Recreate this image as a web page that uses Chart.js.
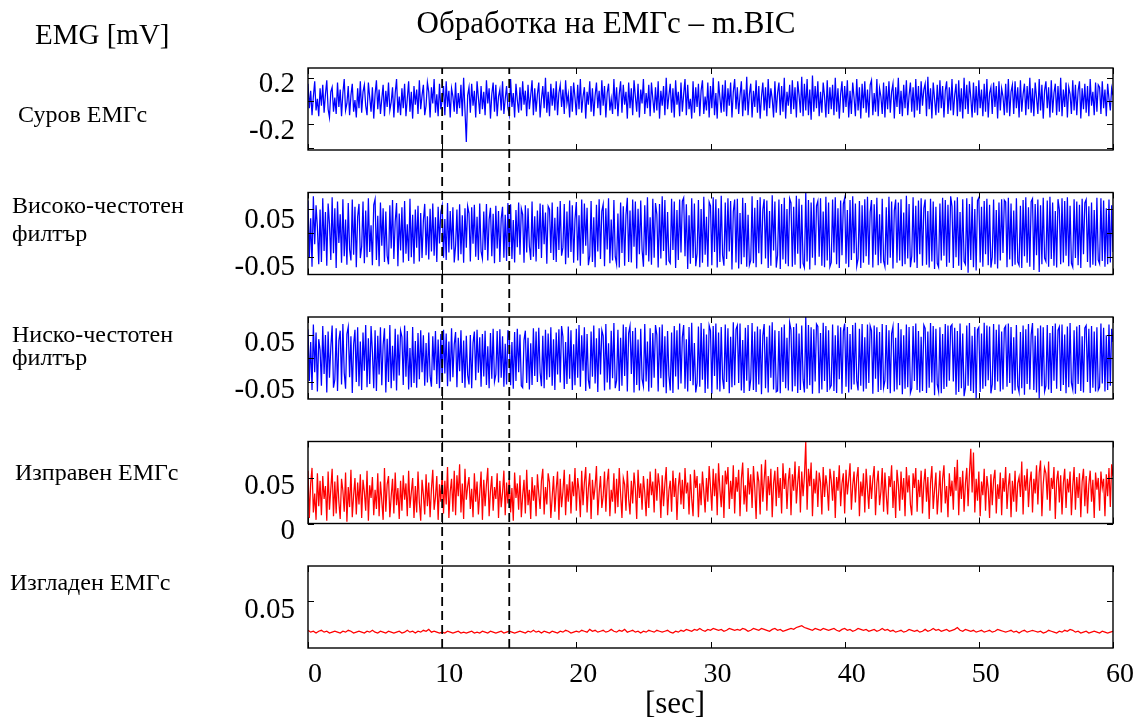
<!DOCTYPE html>
<html>
<head>
<meta charset="utf-8">
<script src="https://cdn.jsdelivr.net/npm/chart.js@4/dist/chart.umd.min.js"></script>
<style>
  html, body { margin: 0; padding: 0; background: #fff; }
  #wrap { position: relative; width: 1138px; height: 719px; overflow: hidden; }
  #plot { position: absolute; left: 0; top: 0; }
  .txt { position: absolute; font-family: "Liberation Serif", "Times New Roman", serif; color: #000;
         line-height: 1; white-space: nowrap; }
</style>
</head>
<body>
<div id="wrap">
  <canvas id="plot" width="1138" height="719"></canvas>
  <div class="txt" style="left:606px; top:7px; font-size:31px; transform:translateX(-50%);">Обработка на ЕМГс – m.BIC</div>
  <div class="txt" style="left:35px; top:20px; font-size:29px;">EMG [mV]</div>
  <div class="txt" style="left:18px; top:102px; font-size:24px;">Суров ЕМГс</div>
  <div class="txt" style="left:12px; top:193px; font-size:24px;">Високо-честотен</div>
  <div class="txt" style="left:12px; top:221px; font-size:24px;">филтър</div>
  <div class="txt" style="left:12px; top:322px; font-size:24px;">Ниско-честотен</div>
  <div class="txt" style="left:12px; top:345px; font-size:24px;">филтър</div>
  <div class="txt" style="left:15px; top:460px; font-size:24px;">Изправен ЕМГс</div>
  <div class="txt" style="left:10px; top:570px; font-size:24px;">Изгладен ЕМГс</div>
  <div class="txt" style="left:675px; top:687px; font-size:31px; transform:translateX(-50%);">[sec]</div>
</div>
<script>
// Sampling of the stored traces (seconds between samples)
const SAMPLE_STEP = 0.1;
const SMOOTH_STEP = 0.2;

// Time axis
const timeTicks = [0, 10, 20, 30, 40, 50, 60];
const cursorTimes = [10, 15];

// Raw EMG, mV (one row = 1 s)
const rawEmg = [
  .15,-.06,.09,-.12,.04,.17,-.08,.02,-.13,.11,
  -.04,.14,-.10,.06,.18,-.07,-.14,.08,.12,-.09,
  .03,-.11,.16,-.05,.10,-.13,.07,.19,-.08,-.02,
  .13,-.12,.05,.15,-.09,.01,-.14,.11,-.06,.17,
  -.10,.08,.14,-.04,-.12,.16,.03,-.09,.12,-.15,
  .06,.18,-.07,.10,-.11,.02,.14,-.13,.09,-.05,
  .16,-.08,-.01,.12,-.14,.07,.19,-.10,.04,-.12,
  .11,-.06,.15,-.13,.02,.17,-.09,.08,-.15,.13,
  -.03,.10,-.11,.18,-.07,.05,.14,-.12,-.04,.16,
  .08,-.14,.12,-.02,.19,-.10,.06,-.13,.15,-.07,
  .01,.13,-.12,.17,-.05,.09,-.14,.11,.04,-.09,
  .16,-.11,.07,-.06,.14,-.13,.20,-.08,-.35,.05,
  .12,-.10,.15,-.04,.09,-.14,.17,.03,-.11,.13,
  -.07,.08,-.12,.18,-.02,.11,-.15,.06,.16,-.09,
  .14,-.13,.04,.10,-.08,.17,-.11,.02,.13,-.06,
  -.12,.19,-.05,.07,-.14,.15,.01,-.10,.12,-.08,
  .17,-.03,.09,-.13,.14,-.07,.05,.18,-.12,.11,
  -.09,.06,.16,-.14,.02,.13,-.06,.20,-.10,.08,
  -.13,.15,-.04,.11,-.08,.17,-.12,.07,.14,-.05,
  .10,-.11,.18,-.02,.06,-.14,.13,-.09,.16,.03,
  -.12,.14,-.07,.19,-.10,.04,.12,-.15,.08,-.03,
  .17,-.09,.11,-.13,.05,.16,-.06,.09,-.12,.18,
  -.04,.13,-.14,.07,.15,-.08,.02,-.11,.19,-.07,
  .12,-.13,.06,.17,-.10,.14,-.03,.08,-.15,.16,
  -.06,.11,-.12,.18,.04,-.09,.15,-.14,.10,-.02,
  .19,-.11,.07,-.06,.14,-.13,.16,.02,-.10,.12,
  -.08,.17,-.15,.09,-.04,.13,-.12,.20,-.07,.05,
  .15,-.10,.11,-.14,.18,-.03,.08,-.13,.16,-.09,
  .06,.19,-.12,.14,-.07,.02,-.15,.17,-.10,.12,
  -.05,.15,-.13,.09,.18,-.11,.04,-.08,.16,-.14,
  .13,-.06,.20,-.12,.07,-.15,.17,.03,-.10,.14,
  -.09,.18,-.13,.11,-.04,.16,-.14,.08,.19,-.07,
  .12,-.11,.05,.17,-.13,.10,-.08,.21,-.12,.06,
  .15,-.14,.09,-.05,.18,-.10,.13,-.15,.04,.16,
  -.08,.12,-.13,.19,-.06,.11,.02,-.14,.17,-.10,
  .07,.16,-.12,.13,-.09,.20,-.15,.08,-.04,.14,
  -.11,.18,-.07,.12,-.14,.17,.05,-.10,.21,-.13,
  .15,-.08,.19,-.12,.10,-.16,.22,-.09,.13,-.06,
  .17,-.13,.08,-.10,.16,.04,-.14,.18,-.11,.12,
  -.07,.14,-.12,.20,-.09,.11,-.15,.06,.17,-.10,
  .13,-.05,.18,-.14,.09,-.11,.16,.03,-.13,.19,
  -.08,.12,-.15,.15,-.06,.17,-.10,.10,-.14,.14,
  .18,-.12,.07,-.09,.19,-.13,.11,.04,-.11,.16,
  -.14,.13,-.07,.17,-.10,.08,.15,-.15,.12,-.05,
  .20,-.11,.09,-.13,.14,-.06,.18,-.12,.05,.16,
  -.09,.12,-.14,.19,-.08,.13,-.11,.17,-.04,.10,
  .15,-.13,.21,-.07,.11,-.15,.16,.02,-.12,.14,
  -.10,.18,-.06,.13,-.14,.09,.17,-.11,.12,-.08,
  .19,-.12,.05,.15,-.13,.18,-.09,.11,-.15,.20,
  -.07,.14,-.11,.17,.03,-.14,.16,-.10,.13,-.12,
  .18,-.06,.10,-.13,.15,-.09,.19,-.14,.07,.12,
  -.11,.16,-.05,.13,-.15,.17,-.08,.11,.04,-.12,
  .15,-.10,.19,-.13,.08,.14,-.11,.17,-.06,.12,
  -.14,.18,-.09,.06,.15,-.12,.13,-.07,.20,-.10,
  .11,-.13,.16,.03,-.11,.19,-.08,.14,-.15,.09,
  .17,-.06,.12,-.14,.18,-.10,.07,.15,-.12,.13,
  -.09,.20,-.13,.10,-.05,.16,-.14,.12,.06,-.11,
  .18,-.08,.14,-.12,.09,.17,-.15,.11,-.07,.15,
  -.10,.13,-.13,.19,-.04,.08,-.12,.16,-.09,.14,
  .12,-.11,.17,-.06,.10,-.13,.15,.02,-.08,.11,
  .05
];

// High-pass filtered EMG, mV
const highPass = [
  .068,-.052,.031,-.071,.077,-.024,.058,.012,-.066,.049,
  -.061,.073,-.038,.044,-.069,.062,.019,-.057,.075,-.043,
  .052,-.074,.066,-.021,.039,-.063,.071,-.049,.028,-.067,
  .063,-.035,-.058,.070,-.046,.055,-.072,.034,.061,-.053,
  -.029,.066,-.064,.047,-.051,.073,-.040,.016,-.068,.059,
  .071,-.057,.036,-.070,.064,-.027,.052,-.061,.045,-.048,
  -.066,.058,-.033,.069,-.055,.024,.063,-.070,.041,-.037,
  .054,-.062,.067,-.044,.018,-.059,.072,-.051,.038,-.065,
  .049,-.031,.057,-.060,.042,-.053,.026,.061,-.047,.035,
  -.056,.051,-.039,.062,-.048,.033,-.061,.055,-.022,.044,
  .058,-.052,.029,-.057,.063,-.041,.046,-.035,.054,-.062,
  -.027,.049,-.058,.060,-.045,.037,-.063,.052,-.031,.056,
  .041,-.060,.054,-.023,.059,-.050,.034,-.057,.062,-.039,
  -.054,.045,-.036,.061,-.058,.028,.053,-.049,.040,-.064,
  .057,-.033,.046,-.061,.030,.055,-.052,.038,-.059,.063,
  -.044,.060,-.055,.027,-.062,.048,-.030,.064,-.046,.051,
  .039,-.063,.058,-.041,.052,-.028,-.057,.066,-.050,.035,
  -.060,.047,-.034,.062,-.053,.059,-.024,.043,-.065,.056,
  .050,-.042,.064,-.057,.032,-.061,.055,-.036,.067,-.048,
  -.031,.061,-.066,.045,-.052,.068,-.040,.058,-.063,.029,
  .065,-.058,.037,-.069,.070,-.044,.062,-.027,.053,-.068,
  -.048,.067,-.061,.033,-.072,.059,-.039,.071,-.055,.046,
  .060,-.070,.052,-.035,.073,-.064,.028,-.058,.069,-.050,
  -.066,.041,-.073,.064,-.042,.056,-.069,.038,.074,-.061,
  .047,-.062,.070,-.029,.066,-.075,.051,-.045,.068,-.036,
  -.071,.058,-.047,.075,-.060,.033,-.067,.072,-.052,.063,
  .039,-.073,.061,-.054,.077,-.038,.069,-.068,.044,-.059,
  -.064,.072,-.036,.066,-.074,.048,-.057,.070,-.041,.067,
  .074,-.049,.060,-.076,.037,-.065,.073,-.053,.062,-.070,
  -.043,.069,-.072,.050,-.063,.076,-.046,.034,-.071,.065,
  .057,-.068,.075,-.040,.071,-.073,.052,-.061,.078,-.047,
  -.069,.064,-.055,.073,-.039,.067,-.077,.045,.070,-.062,
  .072,-.075,.042,-.066,.074,-.051,.063,-.071,.038,-.068,
  -.058,.077,-.064,.053,-.072,.069,-.043,.075,-.066,.049,
  .071,-.054,.068,-.074,.046,-.069,.079,-.037,.066,-.073,
  -.047,.070,-.076,.061,-.056,.074,-.065,.050,-.070,.072,
  .063,-.071,.055,-.067,.078,-.044,.072,-.075,.059,-.064,
  -.073,.085,-.060,.069,-.077,.064,-.052,.074,-.068,.057,
  .067,-.050,.073,-.069,.045,-.072,.076,-.058,.064,-.071,
  -.062,.070,-.041,.075,-.066,.052,-.074,.068,-.047,.061,
  .073,-.065,.048,-.072,.069,-.057,.077,-.043,.062,-.070,
  -.055,.067,-.074,.058,-.063,.071,-.049,.076,-.067,.044,
  .069,-.073,.060,-.046,.074,-.068,.039,-.064,.072,-.059,
  -.071,.054,-.067,.076,-.052,.066,-.075,.047,.070,-.063,
  .064,-.058,.071,-.070,.043,-.066,.078,-.054,.061,-.072,
  -.049,.075,-.062,.057,-.074,.068,-.045,.073,-.069,.052,
  .070,-.067,.046,-.073,.072,-.060,.066,-.076,.055,-.064,
  -.072,.062,-.058,.074,-.048,.069,-.071,.059,-.063,.077,
  .056,-.074,.068,-.051,.075,-.069,.044,-.078,.071,-.060,
  -.066,.073,-.084,.061,-.057,.076,-.072,.050,-.079,.068,
  .074,-.062,.055,-.071,.067,-.045,.072,-.068,.059,-.073,
  -.051,.070,-.066,.048,-.075,.064,-.058,.071,-.042,.069,
  .065,-.072,.074,-.056,.062,-.070,.047,-.067,.073,-.061,
  -.068,.057,-.074,.069,-.049,.075,-.063,.054,-.071,.066,
  .072,-.078,.061,-.047,.070,-.082,.058,-.066,.074,-.053,
  -.060,.068,-.071,.076,-.055,.064,-.069,.046,-.073,.071,
  .049,-.066,.073,-.062,.067,-.048,.075,-.070,.057,-.064,
  -.072,.071,-.053,.066,-.068,.059,-.074,.072,-.045,.063,
  .070,-.061,.056,-.073,.064,-.067,.048,-.069,.074,-.057,
  -.065,.073,-.059,.068,-.071,.052,-.066,.070,-.062,.058,
  -.040
];

// Low-pass filtered EMG, mV
const lowPass = [
  .062,-.048,.035,-.067,.072,-.029,.055,-.070,.041,.018,
  -.058,.069,-.033,.050,-.072,.057,-.041,.024,.070,-.062,
  -.045,.064,-.069,.038,.059,-.055,.073,-.031,-.064,.052,
  .067,-.040,.047,-.073,.030,.061,-.050,.066,-.059,.036,
  -.067,.055,-.026,.071,-.061,.043,-.054,.069,.014,-.063,
  .060,-.069,.048,-.034,.066,-.057,.029,.064,-.072,.042,
  -.050,.071,-.063,.027,-.047,.063,-.068,.051,-.036,.059,
  .046,-.056,.070,-.039,.058,-.066,.022,-.061,.067,-.052,
  .037,-.062,.054,-.044,.060,-.029,.049,-.058,.033,-.051,
  .055,-.037,-.060,.047,-.025,.058,-.054,.040,-.063,.052,
  -.045,.061,-.032,.053,-.059,.036,-.049,.064,-.040,.030,
  .056,-.061,.044,-.027,.060,-.052,.038,-.062,.048,-.035,
  -.055,.050,-.063,.033,.057,-.046,.061,-.030,.045,-.060,
  .052,-.038,.059,-.056,.026,-.063,.054,-.043,.063,-.049,
  -.034,.058,-.051,.062,-.041,.047,-.060,.031,-.055,.060,
  .043,-.057,.035,-.064,.056,-.048,.063,-.029,.051,-.058,
  -.062,.039,.059,-.052,.044,-.066,.032,-.056,.064,-.037,
  .057,-.050,.065,-.030,-.059,.048,-.063,.061,-.045,.053,
  -.040,.066,-.058,.041,-.067,.055,-.034,.062,-.051,.069,
  .046,-.065,.035,-.054,.068,-.043,.060,-.067,.030,-.057,
  .063,-.041,.071,-.060,.049,-.026,.066,-.069,.052,-.046,
  -.064,.057,-.039,.070,-.053,.043,-.071,.064,-.034,.060,
  .048,-.068,.073,-.051,.032,-.066,.059,-.042,.075,-.063,
  -.047,.061,-.069,.044,-.058,.072,-.037,.067,-.070,.054,
  .069,-.033,.058,-.072,.065,-.056,.040,-.068,.063,-.044,
  -.059,.073,-.049,.036,-.070,.064,-.062,.054,-.041,.071,
  .050,-.070,.066,-.042,.072,-.061,.047,-.074,.058,-.036,
  -.068,.055,-.073,.069,-.038,.060,-.066,.074,-.053,.045,
  .071,-.064,.041,-.070,.067,-.048,.076,-.057,.033,-.072,
  -.052,.068,-.060,.075,-.045,.063,-.073,.051,-.064,.070,
  .059,-.075,.069,-.037,.074,-.066,.055,-.070,.067,-.043,
  -.065,.072,-.050,.064,-.074,.046,-.061,.077,-.057,.062,
  .070,-.052,.074,-.068,.039,-.073,.065,-.047,.071,-.069,
  -.044,.075,-.067,.057,-.071,.068,-.055,.062,-.076,.048,
  .073,-.063,.046,-.072,.070,-.041,.077,-.066,.060,-.071,
  -.069,.058,-.074,.066,-.050,.072,-.063,.044,-.068,.076,
  .061,-.070,.067,-.059,.074,-.073,.053,-.067,.070,-.045,
  -.072,.088,-.064,.071,-.057,.066,-.075,.062,-.049,.073,
  .068,-.074,.054,-.066,.076,-.048,.069,-.071,.060,-.063,
  -.057,.072,-.069,.049,-.073,.070,-.044,.066,-.075,.058,
  .074,-.060,.067,-.072,.052,-.066,.071,-.055,.076,-.047,
  -.068,.063,-.058,.073,-.070,.045,-.064,.072,-.052,.069,
  .059,-.075,.070,-.043,.066,-.071,.056,-.067,.073,-.062,
  -.047,.071,-.065,.060,-.074,.053,.068,-.070,.044,-.066,
  .075,-.057,.062,-.076,.049,-.064,.072,-.061,.067,-.073,
  -.063,.069,-.048,.074,-.067,.058,-.072,.046,-.069,.071,
  .064,-.073,.057,-.062,.075,-.051,.069,-.078,.063,-.055,
  -.070,.066,-.074,.052,-.065,.073,-.060,.070,-.047,.068,
  .072,-.049,.065,-.077,.058,-.071,.074,-.063,.053,-.080,
  -.062,.070,-.058,.075,-.069,.048,-.073,.067,-.085,.061,
  .066,-.071,.053,-.064,.076,-.059,.070,-.046,.068,-.074,
  -.055,.073,-.067,.061,-.049,.072,-.070,.057,-.066,.064,
  .069,-.060,.074,-.052,.067,-.075,.045,-.068,.071,-.058,
  -.071,.056,-.063,.070,-.077,.062,-.054,.073,-.066,.050,
  .075,-.067,.048,-.072,.064,-.085,.070,-.059,.066,-.070,
  -.058,.071,-.066,.054,-.073,.069,-.047,.074,-.064,.060,
  .067,-.069,.072,-.056,.051,-.074,.068,-.061,.075,-.052,
  -.066,.060,-.075,.068,-.054,.071,-.069,.047,-.072,.065,
  .070,-.050,.063,-.073,.069,-.062,.057,-.070,.066,-.067,
  -.061,.074,-.053,.065,-.070,.049,-.067,.072,-.058,.063,
  .035
];

// Full-wave rectified EMG, mV
const rectified = [
  .058,.006,.044,.061,.012,.033,.004,.055,.019,.047,
  .009,.052,.027,.041,.003,.057,.015,.038,.060,.008,
  .046,.011,.053,.024,.005,.049,.036,.013,.056,.002,
  .040,.018,.059,.007,.031,.050,.010,.045,.021,.054,
  .006,.048,.035,.014,.058,.003,.042,.028,.051,.009,
  .037,.016,.055,.008,.046,.025,.004,.061,.013,.043,
  .052,.007,.030,.049,.011,.056,.020,.039,.005,.047,
  .014,.053,.026,.044,.008,.058,.017,.034,.050,.006,
  .041,.012,.057,.023,.003,.048,.032,.010,.054,.019,
  .045,.007,.038,.059,.015,.029,.052,.004,.043,.024,
  .056,.011,.047,.021,.062,.006,.035,.049,.013,.058,
  .009,.053,.030,.065,.012,.044,.005,.060,.026,.041,
  .051,.016,.038,.007,.055,.024,.046,.010,.033,.057,
  .004,.048,.019,.043,.061,.008,.036,.052,.014,.040,
  .027,.055,.006,.047,.018,.034,.058,.009,.045,.022,
  .050,.012,.039,.003,.056,.028,.044,.015,.053,.007,
  .031,.048,.011,.059,.020,.037,.005,.051,.025,.042,
  .008,.054,.033,.016,.047,.060,.010,.040,.021,.055,
  .045,.006,.029,.052,.013,.038,.057,.004,.049,.018,
  .035,.059,.009,.043,.024,.054,.011,.046,.030,.061,
  .014,.050,.036,.007,.058,.020,.045,.062,.012,.039,
  .055,.005,.048,.026,.041,.063,.009,.034,.052,.017,
  .030,.057,.013,.046,.060,.008,.037,.024,.055,.011,
  .049,.018,.061,.032,.006,.050,.043,.014,.058,.027,
  .010,.047,.022,.056,.038,.005,.059,.028,.044,.015,
  .052,.034,.008,.049,.017,.057,.031,.046,.012,.060,
  .025,.055,.041,.006,.053,.019,.044,.062,.009,.036,
  .047,.013,.058,.029,.050,.004,.040,.056,.021,.048,
  .016,.061,.033,.045,.010,.054,.027,.008,.059,.039,
  .052,.007,.044,.020,.057,.035,.012,.050,.024,.063,
  .040,.014,.060,.030,.055,.009,.066,.037,.018,.053,
  .006,.058,.043,.062,.016,.047,.027,.064,.011,.051,
  .035,.059,.008,.049,.067,.021,.042,.013,.061,.032,
  .054,.017,.063,.039,.005,.057,.046,.010,.065,.024,
  .048,.070,.014,.052,.031,.060,.007,.044,.058,.019,
  .062,.028,.050,.011,.066,.038,.055,.016,.047,.061,
  .009,.054,.036,.068,.022,.045,.063,.012,.057,.030,
  .052,.090,.015,.060,.041,.067,.008,.049,.033,.058,
  .018,.056,.045,.010,.062,.029,.053,.040,.014,.060,
  .047,.025,.058,.006,.051,.036,.064,.019,.044,.055,
  .011,.059,.032,.048,.066,.015,.042,.057,.023,.050,
  .062,.008,.046,.030,.055,.012,.060,.038,.016,.053,
  .027,.049,.063,.009,.044,.058,.020,.035,.061,.013,
  .056,.031,.010,.052,.040,.064,.017,.047,.006,.059,
  .043,.014,.057,.026,.050,.008,.062,.034,.053,.021,
  .009,.055,.039,.061,.013,.048,.029,.058,.011,.044,
  .060,.024,.051,.005,.045,.063,.016,.037,.056,.010,
  .033,.058,.012,.049,.064,.022,.041,.007,.055,.030,
  .047,.015,.062,.036,.070,.009,.051,.027,.058,.013,
  .044,.061,.019,.055,.082,.034,.078,.012,.049,.025,
  .057,.008,.046,.031,.060,.014,.052,.038,.006,.054,
  .020,.048,.059,.011,.043,.027,.056,.009,.050,.035,
  .062,.016,.041,.055,.007,.047,.024,.058,.013,.044,
  .051,.029,.068,.010,.053,.036,.060,.018,.045,.057,
  .012,.049,.033,.064,.021,.056,.069,.008,.043,.061,
  .055,.026,.068,.014,.050,.038,.062,.005,.047,.058,
  .023,.053,.010,.044,.060,.017,.049,.034,.057,.009,
  .041,.062,.015,.051,.028,.055,.007,.046,.060,.019,
  .052,.011,.043,.058,.024,.048,.006,.056,.037,.050,
  .014,.057,.039,.049,.008,.054,.030,.061,.018,.065,
  .052
];

// Smoothed (linear envelope) EMG, mV (one row = 2 s)
const smoothed = [
  .019,.017,.018,.016,.018,.019,.017,.018,.016,.017,
  .018,.017,.016,.018,.017,.019,.018,.016,.017,.018,
  .017,.016,.018,.017,.019,.017,.016,.018,.017,.016,
  .018,.017,.016,.017,.018,.016,.017,.019,.017,.018,
  .016,.018,.017,.019,.018,.020,.017,.018,.017,.016,
  .017,.016,.018,.017,.016,.017,.018,.016,.017,.016,
  .017,.018,.016,.017,.016,.018,.017,.016,.018,.017,
  .016,.017,.018,.016,.017,.018,.017,.016,.017,.018,
  .017,.016,.018,.017,.019,.017,.018,.016,.018,.017,
  .016,.018,.017,.016,.018,.017,.019,.018,.016,.017,
  .018,.017,.019,.018,.017,.020,.018,.019,.017,.018,
  .019,.017,.018,.020,.018,.017,.019,.018,.020,.017,
  .018,.019,.017,.018,.016,.018,.017,.019,.018,.017,
  .019,.018,.017,.018,.019,.017,.016,.018,.017,.019,
  .018,.020,.019,.018,.020,.019,.021,.019,.018,.020,
  .019,.021,.020,.019,.020,.018,.019,.021,.020,.019,
  .020,.019,.021,.020,.018,.019,.021,.020,.019,.021,
  .020,.019,.018,.020,.021,.019,.020,.018,.019,.020,
  .021,.020,.022,.023,.024,.022,.021,.020,.019,.021,
  .020,.019,.021,.020,.019,.020,.021,.019,.018,.020,
  .021,.019,.020,.018,.019,.021,.020,.019,.020,.018,
  .019,.020,.018,.019,.021,.019,.020,.018,.019,.017,
  .018,.019,.017,.018,.020,.019,.018,.019,.017,.018,
  .020,.018,.019,.021,.019,.020,.018,.019,.020,.018,
  .019,.020,.022,.019,.018,.020,.019,.018,.019,.017,
  .018,.019,.017,.018,.019,.017,.018,.020,.019,.018,
  .017,.018,.019,.017,.018,.016,.018,.019,.017,.018,
  .019,.018,.017,.018,.016,.017,.019,.018,.017,.016,
  .018,.017,.019,.018,.020,.019,.017,.018,.016,.017,
  .018,.016,.017,.018,.017,.016,.018,.017,.016,.017,
  .018
];

// Y tick values and their printed labels, per trace
const rawTicks = [-0.4, -0.2, 0, 0.2];
const rawTickLabels = ['', '-0.2', '', '0.2'];
const filtTicks = [-0.05, 0, 0.05];
const filtTickLabels = ['-0.05', '', '0.05'];
const rectTicks = [0, 0.05];
const rectTickLabels = ['0', '0.05'];
const smoothTicks = [0.05];
const smoothTickLabels = ['0.05'];

const BLUE = '#0000ff';
const RED = '#ff0000';
const SERIF = 'Liberation Serif';
const AXIS_W = 308;       // width reserved for the y tick labels
const PANEL_H = 82;       // relative height of a trace panel
const GAP_H = 42.5;       // relative height of the space between panels
const TICK_LEN = 6;

const panels = [
  { id: 'yRaw',    values: rawEmg,    step: SAMPLE_STEP, color: BLUE, min: -0.42,   max: 0.285, ticks: rawTicks,    labels: rawTickLabels,    labelOffset: 7 },
  { id: 'yHigh',   values: highPass,  step: SAMPLE_STEP, color: BLUE, min: -0.0875, max: 0.085, ticks: filtTicks,   labels: filtTickLabels,   labelOffset: 11 },
  { id: 'yLow',    values: lowPass,   step: SAMPLE_STEP, color: BLUE, min: -0.086,  max: 0.088, ticks: filtTicks,   labels: filtTickLabels,   labelOffset: 8 },
  { id: 'yRect',   values: rectified, step: SAMPLE_STEP, color: RED,  min: 0,       max: 0.09,  ticks: rectTicks,   labels: rectTickLabels,   labelOffset: 8 },
  { id: 'ySmooth', values: smoothed,  step: SMOOTH_STEP, color: RED,  min: 0,       max: 0.088, ticks: smoothTicks, labels: smoothTickLabels, labelOffset: 9 }
];

const toPoints = (values, step) => values.map((v, i) => ({ x: +(i * step).toFixed(3), y: v }));

const scales = {
  x: {
    type: 'linear', position: 'bottom', min: 0, max: 60,
    afterBuildTicks: a => { a.ticks = timeTicks.map(v => ({ value: v })); },
    afterFit: s => { s.height = 71; },
    grid: { display: false, drawTicks: false },
    border: { display: false },
    ticks: { color: '#000', font: { family: SERIF, size: 28 }, padding: 10, labelOffset: 7,
             maxRotation: 0, autoSkip: false }
  },
  yFull: { type: 'linear', position: 'left', display: false, min: 0, max: 1 }
};

// Stacked left axes, one per trace, with empty spacer axes in between (top to bottom)
let weight = panels.length * 2;
panels.forEach((p, k) => {
  scales[p.id] = {
    type: 'linear', position: 'left', stack: 'traces', stackWeight: PANEL_H, weight: weight--,
    min: p.min, max: p.max,
    afterBuildTicks: a => { a.ticks = p.ticks.map(v => ({ value: v })); },
    afterFit: s => { s.width = AXIS_W; },
    grid: { display: false, drawTicks: false },
    border: { display: false },
    ticks: {
      color: '#000', font: { family: SERIF, size: 29 }, padding: 13, labelOffset: p.labelOffset,
      autoSkip: false,
      callback: v => { const i = p.ticks.indexOf(v); return i < 0 ? '' : p.labels[i]; }
    }
  };
  if (k < panels.length - 1) {
    scales['gap' + k] = { type: 'linear', position: 'left', stack: 'traces', stackWeight: GAP_H,
                          weight: weight--, display: false, min: 0, max: 1 };
  }
});

const datasets = [];
cursorTimes.forEach(t => {
  datasets.push({
    data: [{ x: t, y: 0 }, { x: t, y: 1 }],
    xAxisID: 'x', yAxisID: 'yFull',
    borderColor: '#000', borderWidth: 1.8, borderDash: [9, 5],
    pointRadius: 0, fill: false, order: 0
  });
});
panels.forEach(p => {
  datasets.push({
    data: toPoints(p.values, p.step),
    xAxisID: 'x', yAxisID: p.id,
    borderColor: p.color, borderWidth: 1.25,
    pointRadius: 0, fill: false, tension: 0, order: 1
  });
});

// Boxed panels with inward tick marks on all four sides
const panelFrames = {
  id: 'panelFrames',
  afterDatasetsDraw(chart) {
    const { ctx, chartArea } = chart;
    const { left, right } = chartArea;
    const xs = chart.scales.x;
    ctx.save();
    ctx.strokeStyle = '#000';
    panels.forEach(p => {
      const s = chart.scales[p.id];
      ctx.lineWidth = 1;
      ctx.beginPath();
      s.ticks.forEach(t => {
        const y = Math.round(s.getPixelForValue(t.value)) + 0.5;
        ctx.moveTo(left, y); ctx.lineTo(left + TICK_LEN, y);
        ctx.moveTo(right, y); ctx.lineTo(right - TICK_LEN, y);
      });
      xs.ticks.forEach(t => {
        const x = Math.round(xs.getPixelForValue(t.value)) + 0.5;
        ctx.moveTo(x, s.top); ctx.lineTo(x, s.top + TICK_LEN);
        ctx.moveTo(x, s.bottom); ctx.lineTo(x, s.bottom - TICK_LEN);
      });
      ctx.stroke();
      ctx.lineWidth = 1.4;
      ctx.strokeRect(left, s.top, right - left, s.bottom - s.top);
    });
    ctx.restore();
  }
};

new Chart(document.getElementById('plot'), {
  type: 'line',
  data: { datasets },
  options: {
    responsive: false,
    animation: false,
    devicePixelRatio: 1,
    parsing: false,
    normalized: true,
    layout: { padding: { left: 0, top: 68, right: 25, bottom: 0 }, autoPadding: false },
    plugins: { legend: { display: false }, tooltip: { enabled: false }, title: { display: false } },
    scales
  },
  plugins: [panelFrames]
});
</script>
</body>
</html>
